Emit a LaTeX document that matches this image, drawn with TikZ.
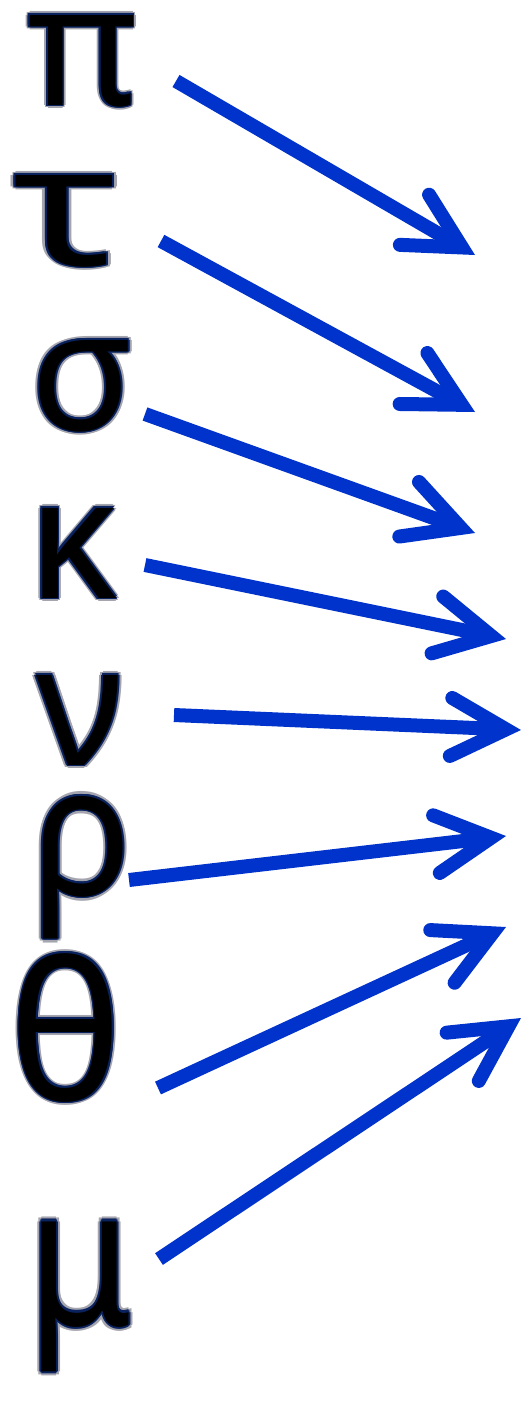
\documentclass[tikz,border=0pt]{standalone}
\usepackage{fontspec}
\usetikzlibrary{arrows.meta}
\newfontfamily\greekfont{Noto Sans}
\definecolor{arrblue}{RGB}{0,51,204}
\definecolor{edgec}{RGB}{10,35,95}
\definecolor{blurc}{RGB}{165,165,175}
\newcommand\offbox[3]{\rlap{\kern#1\raisebox{#2}{#3}}}
% #1 = radius, #2 = radius*0.7, #3 = text
\newcommand\ringof[3]{%
  \offbox{#1}{0pt}{#3}\offbox{-#1}{0pt}{#3}\offbox{0pt}{#1}{#3}\offbox{0pt}{-#1}{#3}%
  \offbox{#2}{#2}{#3}\offbox{-#2}{#2}{#3}\offbox{#2}{-#2}{#3}\offbox{-#2}{-#2}{#3}}
\newcommand\glyphfx[1]{{\color{blurc}\ringof{3.8pt}{2.7pt}{#1}}{\color{edgec}\ringof{1.8pt}{1.3pt}{#1}}\textcolor{black}{#1}}
\tikzset{
  glyph/.style={inner sep=0pt, anchor=base, text=black, font=\greekfont\fontsize{#1}{#1}\selectfont},
  glyph/.default=168,
  arr/.style={draw=arrblue, line width=14pt,
    -{Straight Barb[length=55pt,width=58pt,line cap=round,line join=miter]}}
}
\begin{document}
\begin{tikzpicture}[x=1pt,y=-1pt]
\fill[white] (0,0) rectangle (523,1405);
\useasboundingbox (0,0) rectangle (523,1405);
% glyphs
\node[glyph] (g1) at (82,105) {\glyphfx{π}};
\node[glyph, xscale=1.3] (g2) at (66,265) {\glyphfx{τ}};
\node[glyph] (g3) at (82,430) {\glyphfx{σ}};
\node[glyph] (g4) at (73,598) {\glyphfx{κ}};
\node[glyph] (g5) at (80,765) {\glyphfx{ν}};
\node[glyph, yscale=1.08] (g6) at (82,895) {\glyphfx{ρ}};
\node[glyph=192] (g7) at (66,1100) {\glyphfx{θ}};
\node[glyph, yscale=1.15] (g8) at (80,1325) {\glyphfx{μ}};
% arrow ends
\coordinate (s1) at (176,81);   \coordinate (t1) at (475,255);
\coordinate (s2) at (161,241);  \coordinate (t2) at (475,412);
\coordinate (s3) at (145,414);  \coordinate (t3) at (475,533);
\coordinate (s4) at (145,565);  \coordinate (t4) at (506,639);
\coordinate (s5) at (174,715);  \coordinate (t5) at (521,730);
\coordinate (s6) at (129,880);  \coordinate (t6) at (506,836);
\coordinate (s7) at (158,1088); \coordinate (t7) at (506,927);
\coordinate (s8) at (159,1259); \coordinate (t8) at (521,1018);
\foreach \i in {1,...,8} \draw[arr] (s\i) -- (t\i);
\end{tikzpicture}
\end{document}
